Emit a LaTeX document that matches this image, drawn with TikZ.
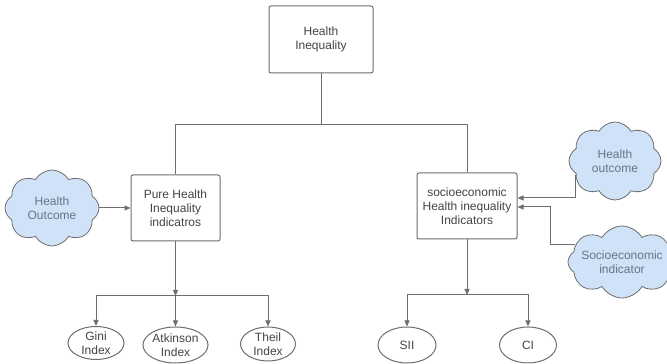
\documentclass[tikz,border=0pt]{standalone}
\usepackage{fontspec}
\setmainfont{Liberation Sans}
\usepackage{xcolor}
\usetikzlibrary{shapes.symbols,shapes.geometric,arrows.meta}
\definecolor{linegray}{HTML}{6E6E6E}
\definecolor{textgray}{HTML}{444444}
\definecolor{cloudblue}{HTML}{CFE2F7}
\definecolor{cloudtext}{HTML}{6A7488}
\tikzset{
  box/.style={draw=linegray, line width=1pt, rounded corners=2pt, align=center,
    text=textgray, inner sep=0pt},
  puff/.style={cloud, cloud puffs=8, cloud puff arc=120, cloud ignores aspect, draw=linegray,
    line width=0.8pt, fill=cloudblue, inner sep=0pt},
  cloudlabel/.style={text=cloudtext, align=center, inner sep=0pt},
  oval/.style={ellipse, draw=linegray, line width=1pt, text=textgray, align=center, inner sep=0pt},
  link/.style={draw=linegray, line width=1pt},
  arr/.style={link, -{Triangle[length=6pt,width=5pt]}}
}
\begin{document}
\begin{tikzpicture}[x=1pt,y=1pt,font=\fontsize{12}{14}\selectfont]
  \clip (0,0) rectangle (667,364);
  \fill[white] (0,0) rectangle (667,364);
  % boxes
  \node[box, minimum width=104pt, minimum height=67pt] (top) at (321,324.5) {Health\\Inequality};
  \node[box, minimum width=89pt, minimum height=66pt] (pure) at (175.5,156) {Pure Health\\Inequality\\indicatros};
  \node[box, minimum width=100pt, minimum height=66pt] (socio) at (467,158) {socioeconomic\\Health inequality\\Indicators};
  % clouds
  \node[puff, minimum width=94pt, minimum height=76pt] (lcloud) at (52,156) {};
  \node[cloudlabel] at (lcloud) {Health\\Outcome};
  \node[puff, minimum width=92pt, minimum height=78pt] (hcloud) at (615,203) {};
  \node[cloudlabel] at (hcloud) {Health\\outcome};
  \node[puff, minimum width=108pt, minimum height=72pt] (scloud) at (622,102) {};
  \node[cloudlabel] at (scloud) {Socioeconomic\\indicator};
  % ovals
  \node[oval, minimum width=56pt, minimum height=33pt] (gini) at (96,21) {Gini\\Index};
  \node[oval, minimum width=55pt, minimum height=36pt] (atk) at (175.5,19) {Atkinson\\Index};
  \node[oval, minimum width=55pt, minimum height=34pt] (theil) at (268,20) {Theil\\Index};
  \node[oval, minimum width=58pt, minimum height=36pt] (sii) at (407,19) {SII};
  \node[oval, minimum width=57pt, minimum height=36pt] (ci) at (528,19) {CI};
  % junctions
  \coordinate (tj) at (321,239);
  \coordinate (pj) at (175.5,68);
  \coordinate (sj) at (467,69);
  \coordinate (bend) at (550,119);
  % connectors
  \draw[link] (top) -- (tj);
  \draw[link] (tj) -| (pure);
  \draw[link] (tj) -| (socio);
  \draw[arr] (lcloud) -- (pure);
  \draw[arr] (pure) -- (pj);
  \draw[arr] (pj) -| (gini);
  \draw[arr] (pj) -- (atk);
  \draw[arr] (pj) -| (theil);
  \draw[arr] (socio) -- (sj);
  \draw[arr] (sj) -| (sii);
  \draw[arr] (sj) -| (ci);
  \draw[arr] (hcloud.200) |- ([yshift=8pt]socio.east);
  \draw[arr] (scloud.160) -- (scloud.160 -| bend) |- ([yshift=-1pt]socio.east);
\end{tikzpicture}
\end{document}
